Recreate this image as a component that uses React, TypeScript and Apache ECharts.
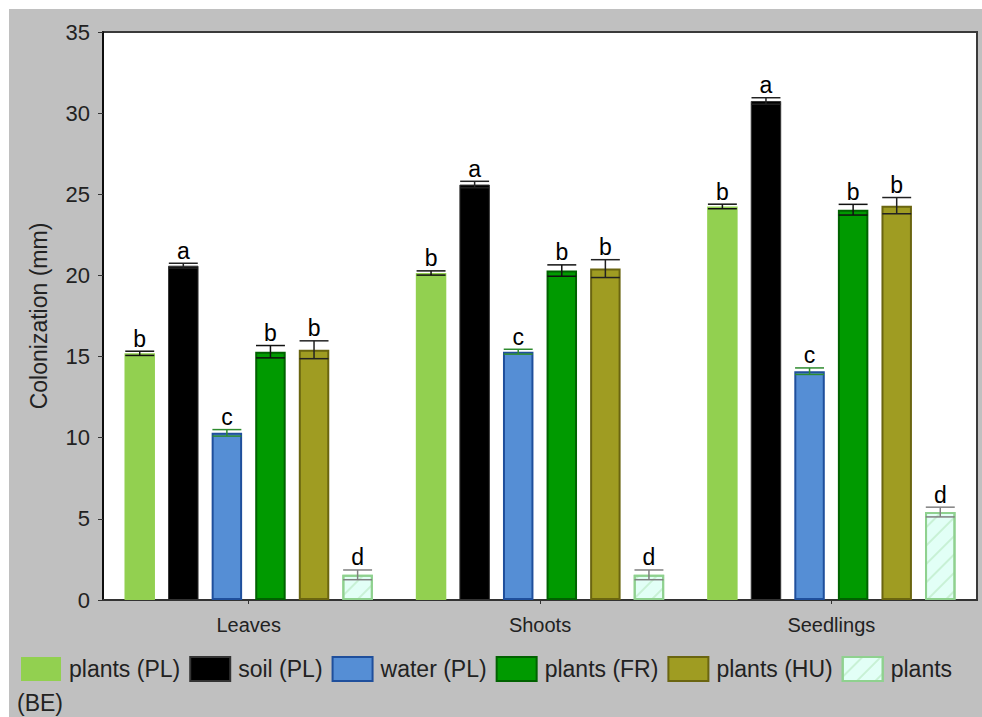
import React, { useEffect, useRef } from "react";
import * as echarts from "echarts";

const categories = ["Leaves", "Shoots", "Seedlings"];
const seriesNames = ["plants (PL)", "soil (PL)", "water (PL)", "plants (FR)", "plants (HU)", "plants (BE)"];
const plantsPL = [15.2, 20.15, 24.25];
const soilPL = [20.6, 25.6, 30.75];
const waterPL = [10.3, 15.3, 14.1];
const plantsFR = [15.3, 20.3, 24.05];
const plantsHU = [15.42, 20.42, 24.3];
const plantsBE = [1.55, 1.55, 5.42];
const errPL = [0.13, 0.13, 0.14];
const errSoil = [0.15, 0.2, 0.2];
const errWater = [0.2, 0.15, 0.2];
const errFR = [0.38, 0.35, 0.33];
const errHU = [0.55, 0.55, 0.5];
const errBE = [0.3, 0.3, 0.3];
const lettersPL = ["b", "b", "b"];
const lettersSoil = ["a", "a", "a"];
const lettersWater = ["c", "c", "c"];
const lettersFR = ["b", "b", "b"];
const lettersHU = ["b", "b", "b"];
const lettersBE = ["d", "d", "d"];
const yTicks = { min: 0, max: 35, interval: 5 };

const values = [plantsPL, soilPL, waterPL, plantsFR, plantsHU, plantsBE];
const errors = [errPL, errSoil, errWater, errFR, errHU, errBE];
const letters = [lettersPL, lettersSoil, lettersWater, lettersFR, lettersHU, lettersBE];

const BAR_RATIO = 0.1046;
const GAP_RATIO = 0.43;

const barStyles: any[] = [
  { color: "#92d050", borderWidth: 0 },
  { color: "#000000", borderColor: "#333333", borderWidth: 1 },
  { color: "#558ed5", borderColor: "#1f4f9c", borderWidth: 2 },
  { color: "#009a00", borderColor: "#006200", borderWidth: 2 },
  { color: "#9f9c22", borderColor: "#6a6510", borderWidth: 2 },
  {
    color: "#e2fff6",
    borderColor: "#8fd18f",
    borderWidth: 2,
    decal: {
      symbol: "rect",
      symbolSize: 1,
      dashArrayX: [[1, 0]],
      dashArrayY: [1.5, 11],
      rotation: -Math.PI / 4,
      color: "rgba(150,215,150,0.35)",
    },
  },
];
const errColors = ["#111111", "#222222", "#2e8b2e", "#111111", "#222222", "#808080"];

export default function App() {
  const ref = useRef<HTMLDivElement>(null);
  useEffect(() => {
    if (!ref.current) return;
    const chart = echarts.init(ref.current, null, { renderer: "svg" });
    const barSeries = seriesNames.map((name, i) => ({
      name,
      type: "bar",
      data: values[i],
      barWidth: (BAR_RATIO * 100).toFixed(2) + "%",
      barGap: (GAP_RATIO * 100).toFixed(0) + "%",
      itemStyle: barStyles[i],
      emphasis: { disabled: true },
      z: 2,
    }));
    const errSeries = seriesNames.map((name, si) => ({
      name: "err " + name,
      type: "custom",
      z: 5,
      clip: false,
      encode: { x: 0, y: 1 },
      data: values[si].map((v, ci) => [ci, v, errors[si][ci]]),
      renderItem: (params: any, api: any) => {
        const ci = api.value(0);
        const mean = api.value(1);
        const err = api.value(2);
        const band = api.size([1, 0])[0];
        const barW = band * BAR_RATIO;
        const pitch = barW * (1 + GAP_RATIO);
        const cx = api.coord([ci, mean])[0] + (si - 2.5) * pitch;
        const yTop = api.coord([ci, mean + err])[1];
        const yBot = api.coord([ci, mean - err])[1];
        const hw = (barW * 0.95) / 2;
        const st = { stroke: errColors[si], lineWidth: 1.5 };
        return {
          type: "group",
          children: [
            { type: "line", shape: { x1: cx, y1: yTop, x2: cx, y2: yBot }, style: st },
            { type: "line", shape: { x1: cx - hw, y1: yTop, x2: cx + hw, y2: yTop }, style: st },
            { type: "line", shape: { x1: cx - hw, y1: yBot, x2: cx + hw, y2: yBot }, style: st },
            {
              type: "text",
              x: cx,
              y: yTop - 1,
              style: {
                text: letters[si][params.dataIndex],
                fontSize: 23,
                fontFamily: "Liberation Sans, Arial, sans-serif",
                fill: "#000000",
                align: "center",
                verticalAlign: "bottom",
              },
            },
          ],
        };
      },
    }));
    chart.setOption({
      animation: false,
      backgroundColor: "#c0c0c0",
      textStyle: { fontFamily: "Liberation Sans, Arial, sans-serif" },
      grid: {
        left: 94,
        top: 23,
        right: 5,
        bottom: 117,
        show: true,
        backgroundColor: "#ffffff",
        borderColor: "#3a3a3a",
        borderWidth: 2,
      },
      legend: {
        data: seriesNames,
        left: 12,
        top: 647,
        padding: 0,
        itemWidth: 40,
        itemHeight: 24,
        itemGap: 9,
        icon: "rect",
        selectedMode: false,
        formatter: (n: string) => (n === "plants (BE)" ? "plants" : n),
        textStyle: {
          fontSize: 23,
          color: "#222222",
          padding: [0, 0, 0, 3],
          fontFamily: "Liberation Sans, Arial, sans-serif",
        },
      },
      graphic: [
        {
          type: "text",
          left: 8,
          top: 682,
          style: {
            text: "(BE)",
            fontSize: 23,
            fill: "#222222",
            fontFamily: "Liberation Sans, Arial, sans-serif",
          },
        },
      ],
      xAxis: {
        type: "category",
        data: categories,
        axisLine: { lineStyle: { color: "#333333", width: 2 } },
        axisTick: { show: true, alignWithLabel: true, length: 4, lineStyle: { color: "#333333" } },
        axisLabel: { fontSize: 20, color: "#222222", margin: 15 },
        splitLine: { show: false },
      },
      yAxis: {
        type: "value",
        min: yTicks.min,
        max: yTicks.max,
        interval: yTicks.interval,
        name: "Colonization (mm)",
        nameLocation: "middle",
        nameGap: 53,
        nameTextStyle: { fontSize: 23, color: "#222222" },
        axisLine: { show: true, lineStyle: { color: "#000000", width: 1.5 } },
        axisTick: { show: true, length: 5, lineStyle: { color: "#333333" } },
        axisLabel: { fontSize: 22, color: "#222222", margin: 13 },
        splitLine: { show: false },
      },
      series: [...barSeries, ...errSeries],
    });
    return () => chart.dispose();
  }, []);
  return (
    <div style={{ position: "fixed", left: 0, top: 0, width: 982, height: 717, overflow: "hidden", background: "#ffffff" }}>
      <div ref={ref} style={{ position: "absolute", left: 9, top: 9, width: 973, height: 708 }} />
    </div>
  );
}
